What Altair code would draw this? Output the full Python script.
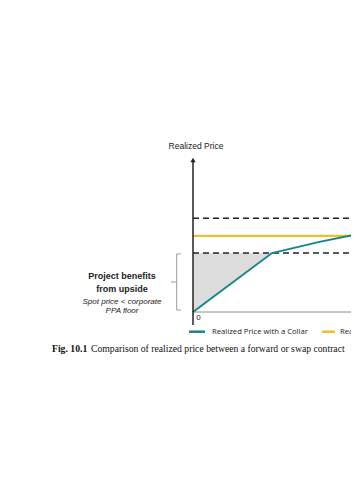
import altair as alt
import pandas as pd

# ---- data (relative price units; floor = 1) ----
spot = [0, 1.0, 1.6, 2.0]
collar_price = [0, 1.0, 1.19, 1.30]
forward_price = 1.29
floor_price = 1.0
cap_price = 1.59
x_max = 2.0
y_max = 2.63

series_names = ["Realized Price with a Collar", "Realized Price with a Forward or Swap"]
teal = "#17868c"
yellow = "#e8c22a"

xs = alt.Scale(domain=[0, x_max], nice=False, zero=False)
ys = alt.Scale(domain=[0, y_max], nice=False, zero=False)
X = lambda f: alt.X(f, scale=xs, axis=None)
Y = lambda f: alt.Y(f, scale=ys, axis=None)

collar_df = pd.DataFrame({"spot": spot, "price": collar_price})
area_df = pd.DataFrame({"spot": spot[:2], "price": collar_price[:2], "floor": [floor_price] * 2})
hlines = pd.DataFrame({
    "y": [cap_price, floor_price],
    "x0": [0, 0], "x1": [x_max, x_max],
})
fwd_df = pd.DataFrame({"y": [forward_price], "x0": [0], "x1": [x_max]})
axis_df = pd.DataFrame({"y": [0], "x0": [0], "x1": [x_max]})
one = pd.DataFrame({"k": [0]})

area = alt.Chart(area_df).mark_area(color="#dcdcdc", opacity=1).encode(
    x=X("spot:Q"), y=Y("price:Q"), y2="floor:Q")

dashed = alt.Chart(hlines).mark_rule(color="#222222", strokeWidth=1.5, strokeDash=[6, 4]).encode(
    x=X("x0:Q"), x2="x1:Q", y=Y("y:Q"))

fwd = alt.Chart(fwd_df).mark_rule(color=yellow, strokeWidth=2.2).encode(
    x=X("x0:Q"), x2="x1:Q", y=Y("y:Q"))

xaxis = alt.Chart(axis_df).mark_rule(color="#8a8a8a", strokeWidth=1).encode(
    x=X("x0:Q"), x2="x1:Q", y=Y("y:Q"))

yaxis = alt.Chart(one).mark_rule(color="#222222", strokeWidth=1.5).encode(
    x=X("k:Q"), y=alt.value(5), y2=alt.value(168))

arrow = alt.Chart(one).mark_point(shape="triangle-up", filled=True, color="#222222", size=28, opacity=1).encode(
    x=X("k:Q"), y=alt.value(3))

collar = alt.Chart(collar_df).mark_line(color=teal, strokeWidth=2).encode(
    x=X("spot:Q"), y=Y("price:Q"))

def txt(s, x, y, size=9, weight="normal", style="normal", align="center", font="Liberation Sans", color="#222222"):
    return alt.Chart(pd.DataFrame({"t": [s]})).mark_text(
        fontSize=size, fontWeight=weight, fontStyle=style, align=align, baseline="middle",
        font=font, color=color).encode(text="t:N", x=alt.value(x), y=alt.value(y))

def rule(x, y, x2=None, y2=None, color="#9a9a9a", w=1):
    enc = dict(x=alt.value(x), y=alt.value(y))
    if x2 is not None:
        enc["x2"] = alt.value(x2)
    if y2 is not None:
        enc["y2"] = alt.value(y2)
    return alt.Chart(one).mark_rule(color=color, strokeWidth=w).encode(**enc)

title = txt("Realized Price", 3, -11, size=8.5)
zero = txt("0", 5.5, 161, size=8)

# bracket
br = [
    rule(-16.3, 97, y2=153),
    rule(-16.3, 97, x2=-12),
    rule(-16.3, 153, x2=-12),
    rule(-22, 125, x2=-16.3),
]
ann = [
    txt("Project benefits", -71, 119, size=9, weight="bold"),
    txt("from upside", -71, 132, size=9, weight="bold"),
    txt("Spot price < corporate", -71, 145, size=8, style="italic"),
    txt("PPA floor", -71, 154, size=8, style="italic"),
]

legend = [
    rule(-4, 174.7, x2=12, color=teal, w=2.5),
    txt(series_names[0], 19, 174.7, size=7.7, align="left", font="Open Sans"),
    rule(129, 174.7, x2=142, color=yellow, w=2.5),
    txt(series_names[1], 147, 174.7, size=7.7, align="left", font="Open Sans"),
]

caption = [
    txt("Fig. 10.1", -141, 192, size=9.7, weight="bold", align="left", font="Liberation Serif", color="#111111"),
    txt("Comparison of realized price between a forward or swap contract",
        -102, 192, size=9.7, align="left", font="Liberation Serif", color="#111111"),
]

chart = alt.layer(
    area, dashed, fwd, xaxis, collar, yaxis, arrow, title, zero, *br, *ann, *legend, *caption
).properties(
    width=158, height=155,
    padding={"left": 185, "top": 149, "right": 0, "bottom": 60},
    autosize=alt.AutoSizeParams(type="none"),
).configure_view(stroke=None)

chart.save("out.html", embed_options={"renderer": "svg", "actions": False})
